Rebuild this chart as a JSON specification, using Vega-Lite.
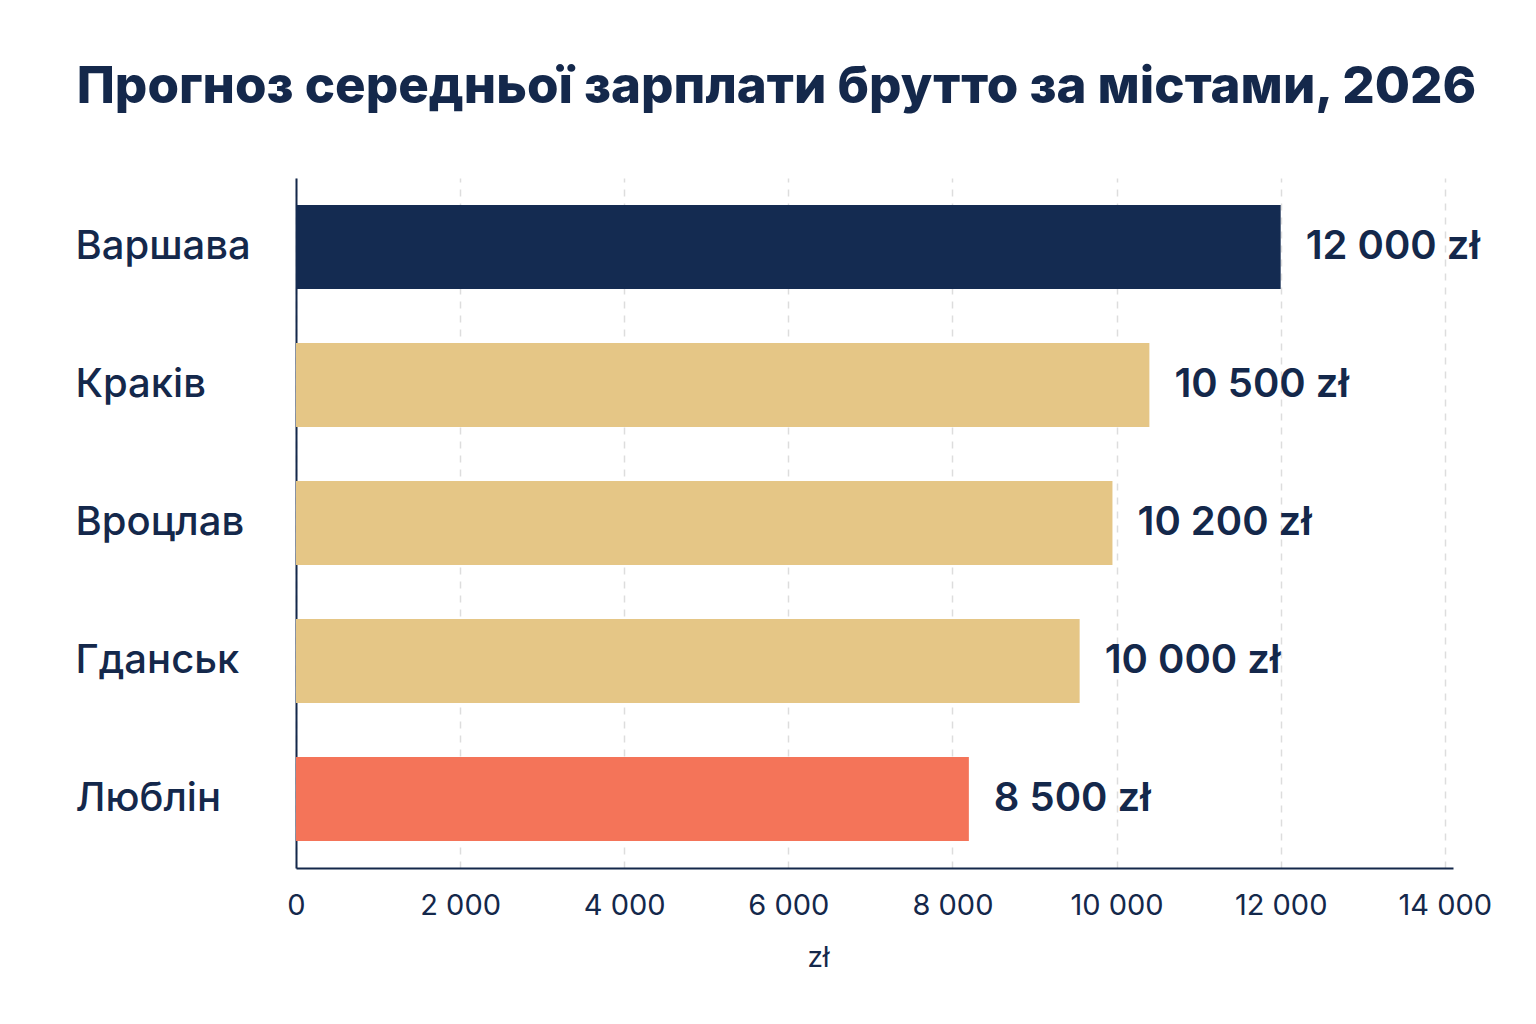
{
  "$schema": "https://vega.github.io/schema/vega-lite/v6.json",
  "autosize": "none",
  "width": 1157,
  "height": 690,
  "padding": {"left": 296, "top": 178, "right": 83, "bottom": 156},
  "background": "white",
  "title": {
    "text": "Прогноз середньої зарплати брутто за містами, 2026",
    "font": "Inter",
    "fontSize": 51,
    "fontWeight": 800,
    "color": "#14284b",
    "anchor": "middle",
    "dx": -98,
    "offset": 64
  },
  "data": {
    "values": [
      {"city": "Варшава", "salary": 12000, "label": "12 000 zł"},
      {"city": "Краків", "salary": 10400, "label": "10 500 zł"},
      {"city": "Вроцлав", "salary": 9950, "label": "10 200 zł"},
      {"city": "Гданськ", "salary": 9550, "label": "10 000 zł"},
      {"city": "Люблін", "salary": 8200, "label": "8 500 zł"}
    ]
  },
  "encoding": {
    "y": {
      "field": "city",
      "type": "nominal",
      "sort": null,
      "title": null,
      "scale": {"paddingInner": 0.39, "paddingOuter": 0.195},
      "axis": {
        "domainColor": "#14284b",
        "domainWidth": 2,
        "ticks": false,
        "labelAlign": "left",
        "labelPadding": 221,
        "labelFont": "Inter",
        "labelFontSize": 40,
        "labelFontWeight": 500,
        "labelColor": "#14284b",
        "grid": false
      }
    },
    "x": {
      "field": "salary",
      "type": "quantitative",
      "title": "zł",
      "scale": {"domain": [0, 14100], "nice": false},
      "axis": {
        "values": [0, 2000, 4000, 6000, 8000, 10000, 12000, 14000],
        "format": ",d",
        "labelExpr": "replace(datum.label, ',', ' ')",
        "domainColor": "#14284b",
        "domainWidth": 2,
        "ticks": false,
        "labelPadding": 23,
        "labelFont": "Inter",
        "labelFontSize": 29,
        "labelColor": "#14284b",
        "labelFlush": false,
        "titleFont": "Inter",
        "titleFontSize": 28,
        "titleFontWeight": "normal",
        "titleColor": "#14284b",
        "titleX": 522,
        "titleY": 76,
        "grid": true,
        "gridColor": "#dddddd",
        "gridDash": [7, 7],
        "gridWidth": 1.5
      }
    }
  },
  "layer": [
    {
      "mark": {"type": "bar"},
      "encoding": {
        "color": {
          "field": "city",
          "type": "nominal",
          "legend": null,
          "scale": {
            "domain": ["Варшава", "Краків", "Вроцлав", "Гданськ", "Люблін"],
            "range": ["#142b51", "#e5c686", "#e5c686", "#e5c686", "#f47459"]
          }
        }
      }
    },
    {
      "mark": {
        "type": "text",
        "align": "left",
        "baseline": "middle",
        "dx": 25,
        "font": "Inter",
        "fontSize": 40,
        "fontWeight": 600,
        "color": "#14284b"
      },
      "encoding": {"text": {"field": "label"}}
    }
  ],
  "config": {"view": {"stroke": null}}
}
